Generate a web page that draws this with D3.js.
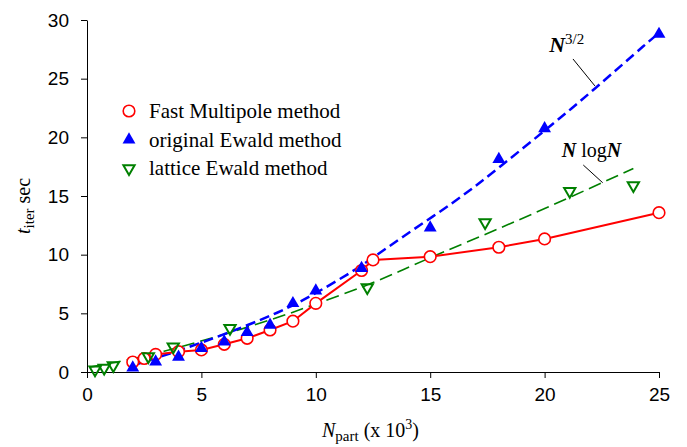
<!DOCTYPE html>
<html>
<head>
<meta charset="utf-8">
<script src="https://cdn.jsdelivr.net/npm/d3@7"></script>
<style>
  body { margin: 0; background: #fff; }
  .axis text { font-family: "Liberation Sans", Arial, sans-serif; font-size: 19px; fill: #000; }
  .axis path, .axis line { stroke: #000; stroke-width: 1px; }
  .serif { font-family: "Liberation Serif", "Times New Roman", serif; fill: #000; }
</style>
</head>
<body>
<svg id="chart" width="687" height="447"></svg>
<script>
// data (N in thousands, time in sec)
const fmmN = [2, 2.5, 3, 4, 5, 6, 7, 8, 9, 10, 12, 12.5, 15, 18, 20, 25];
const fmmT = [0.85, 1.15, 1.5, 1.73, 1.88, 2.36, 2.87, 3.58, 4.33, 5.85, 8.65, 9.55, 9.83, 10.63, 11.34, 13.58];

const ewaldN = [2, 3, 4, 5, 6, 7, 8, 9, 10, 12, 15, 18, 20, 25];
const ewaldT = [0.37, 0.88, 1.28, 2.02, 2.58, 3.38, 4.0, 5.85, 6.93, 8.84, 12.3, 18.13, 20.75, 28.8];

const latticeN = [0.35, 0.75, 1.15, 2.68, 3.77, 6.25, 12.25, 17.4, 21.1, 23.88];
const latticeT = [0.2, 0.35, 0.55, 1.33, 2.16, 3.72, 7.2, 12.75, 15.4, 15.9];

// fitted curves
const fit32N = [2, 4, 6, 8.46, 10, 12, 13.68, 16.17, 18, 20.53, 22, 24.68, 25];
const fit32T = [0.55, 1.8, 3.2, 5.1, 6.7, 9.0, 11.4, 14.6, 17.4, 21.4, 23.8, 28.4, 28.9];

const fitNlogN_N = [0.1, 1.73, 3.2, 5.67, 8.46, 10, 12.25, 13.68, 15, 17.2, 20, 23.88];
const fitNlogN_T = [0.4, 1.0, 1.65, 3.0, 4.7, 5.8, 7.37, 8.6, 9.75, 11.55, 13.9, 17.35];

const xTicks = [0, 5, 10, 15, 20, 25];
const yTicks = [0, 5, 10, 15, 20, 25, 30];

const legendLabels = ["Fast Multipole method", "original Ewald method", "lattice Ewald method"];

const svg = d3.select("#chart");

const x = d3.scaleLinear().domain([0, 25]).range([87, 659]);
const y = d3.scaleLinear().domain([0, 30]).range([372, 20]);

// axes
svg.append("g")
  .attr("class", "axis")
  .attr("transform", `translate(0, ${y(0)})`)
  .call(d3.axisBottom(x).tickValues(xTicks).tickSize(6).tickSizeOuter(0).tickPadding(10));

svg.append("g")
  .attr("class", "axis")
  .attr("transform", `translate(${x(0)}, 0)`)
  .call(d3.axisLeft(y).tickValues(yTicks).tickSize(6).tickSizeOuter(0).tickPadding(12));

const line = d3.line().x(d => x(d[0])).y(d => y(d[1]));
const smooth = d3.line().x(d => x(d[0])).y(d => y(d[1])).curve(d3.curveBasis);

const fmm = fmmN.map((n, i) => [n, fmmT[i]]);
const ewald = ewaldN.map((n, i) => [n, ewaldT[i]]);
const lattice = latticeN.map((n, i) => [n, latticeT[i]]);
const fit32 = fit32N.map((n, i) => [n, fit32T[i]]);
const fitNlogN = fitNlogN_N.map((n, i) => [n, fitNlogN_T[i]]);

// fit lines
svg.append("path")
  .attr("d", smooth(fitNlogN))
  .attr("fill", "none")
  .attr("stroke", "#008000")
  .attr("stroke-width", 1.6)
  .attr("stroke-dasharray", "13,6");

svg.append("path")
  .attr("d", smooth(fit32))
  .attr("fill", "none")
  .attr("stroke", "#0000ff")
  .attr("stroke-width", 2.5)
  .attr("stroke-dasharray", "10,5");

// FMM line + circles
svg.append("path")
  .attr("d", line(fmm))
  .attr("fill", "none")
  .attr("stroke", "#ff0000")
  .attr("stroke-width", 2);

svg.selectAll(".fmm")
  .data(fmm)
  .enter()
  .append("circle")
  .attr("class", "fmm")
  .attr("cx", d => x(d[0]))
  .attr("cy", d => y(d[1]))
  .attr("r", 5.8)
  .attr("fill", "#fff")
  .attr("stroke", "#ff0000")
  .attr("stroke-width", 1.6);

const triUp = d3.symbol().type(d3.symbolTriangle).size(72);
const triDown = d3.symbol().type(d3.symbolTriangle).size(55);

svg.selectAll(".lat")
  .data(lattice)
  .enter()
  .append("path")
  .attr("class", "lat")
  .attr("d", triDown)
  .attr("transform", d => `translate(${x(d[0])}, ${y(d[1])}) rotate(180)`)
  .attr("fill", "none")
  .attr("stroke", "#008000")
  .attr("stroke-width", 2);

svg.selectAll(".ew")
  .data(ewald)
  .enter()
  .append("path")
  .attr("class", "ew")
  .attr("d", triUp)
  .attr("transform", d => `translate(${x(d[0])}, ${y(d[1])})`)
  .attr("fill", "#0000ff");

// legend
const legend = svg.append("g").attr("transform", "translate(129, 111)");
legendLabels.forEach((lab, i) => {
  const g = legend.append("g").attr("transform", `translate(0, ${i * 28.7})`);
  if (i === 0) {
    g.append("circle").attr("r", 5.8).attr("fill", "#fff").attr("stroke", "#ff0000").attr("stroke-width", 1.6);
  } else if (i === 1) {
    g.append("path").attr("d", triUp).attr("fill", "#0000ff");
  } else {
    g.append("path").attr("d", triDown).attr("transform", "rotate(180)")
      .attr("fill", "none").attr("stroke", "#008000").attr("stroke-width", 2);
  }
  g.append("text")
    .attr("class", "serif")
    .attr("x", 20)
    .attr("y", 7)
    .style("font-size", "21px")
    .text(lab);
});

// annotations
svg.append("line")
  .attr("x1", x(21.24)).attr("y1", y(26.68))
  .attr("x2", x(22.2)).attr("y2", y(24.38))
  .attr("stroke", "#000").attr("stroke-width", 1);

const t32 = svg.append("text")
  .attr("class", "serif")
  .attr("x", x(20.2))
  .attr("y", y(27.3))
  .style("font-size", "22px");
t32.append("tspan").style("font-weight", "bold").style("font-style", "italic").text("N");
t32.append("tspan").attr("dy", -8).style("font-size", "15px").text("3/2");

svg.append("line")
  .attr("x1", x(21.69)).attr("y1", y(17.64))
  .attr("x2", x(22.54)).attr("y2", y(16.13))
  .attr("stroke", "#000").attr("stroke-width", 1);

const tnl = svg.append("text")
  .attr("class", "serif")
  .attr("x", x(20.75))
  .attr("y", y(18.35))
  .style("font-size", "20px");
tnl.append("tspan").style("font-weight", "bold").style("font-style", "italic").text("N");
tnl.append("tspan").text(" log");
tnl.append("tspan").style("font-weight", "bold").style("font-style", "italic").text("N");

// axis titles
const xt = svg.append("text")
  .attr("class", "serif")
  .attr("x", 322)
  .attr("y", 437)
  .style("font-size", "20px");
xt.append("tspan").style("font-style", "italic").text("N");
xt.append("tspan").attr("dy", 4).style("font-size", "15px").text("part");
xt.append("tspan").attr("dy", -4).text(" (x 10");
xt.append("tspan").attr("dy", -8).style("font-size", "14px").text("3");
xt.append("tspan").attr("dy", 8).text(")");

const yt = svg.append("text")
  .attr("class", "serif")
  .attr("transform", "translate(30, 234) rotate(-90)")
  .style("font-size", "20px");
yt.append("tspan").style("font-style", "italic").text("t");
yt.append("tspan").attr("dy", 4).style("font-size", "15px").text("iter");
yt.append("tspan").attr("dy", -4).text(" sec");
</script>
</body>
</html>
